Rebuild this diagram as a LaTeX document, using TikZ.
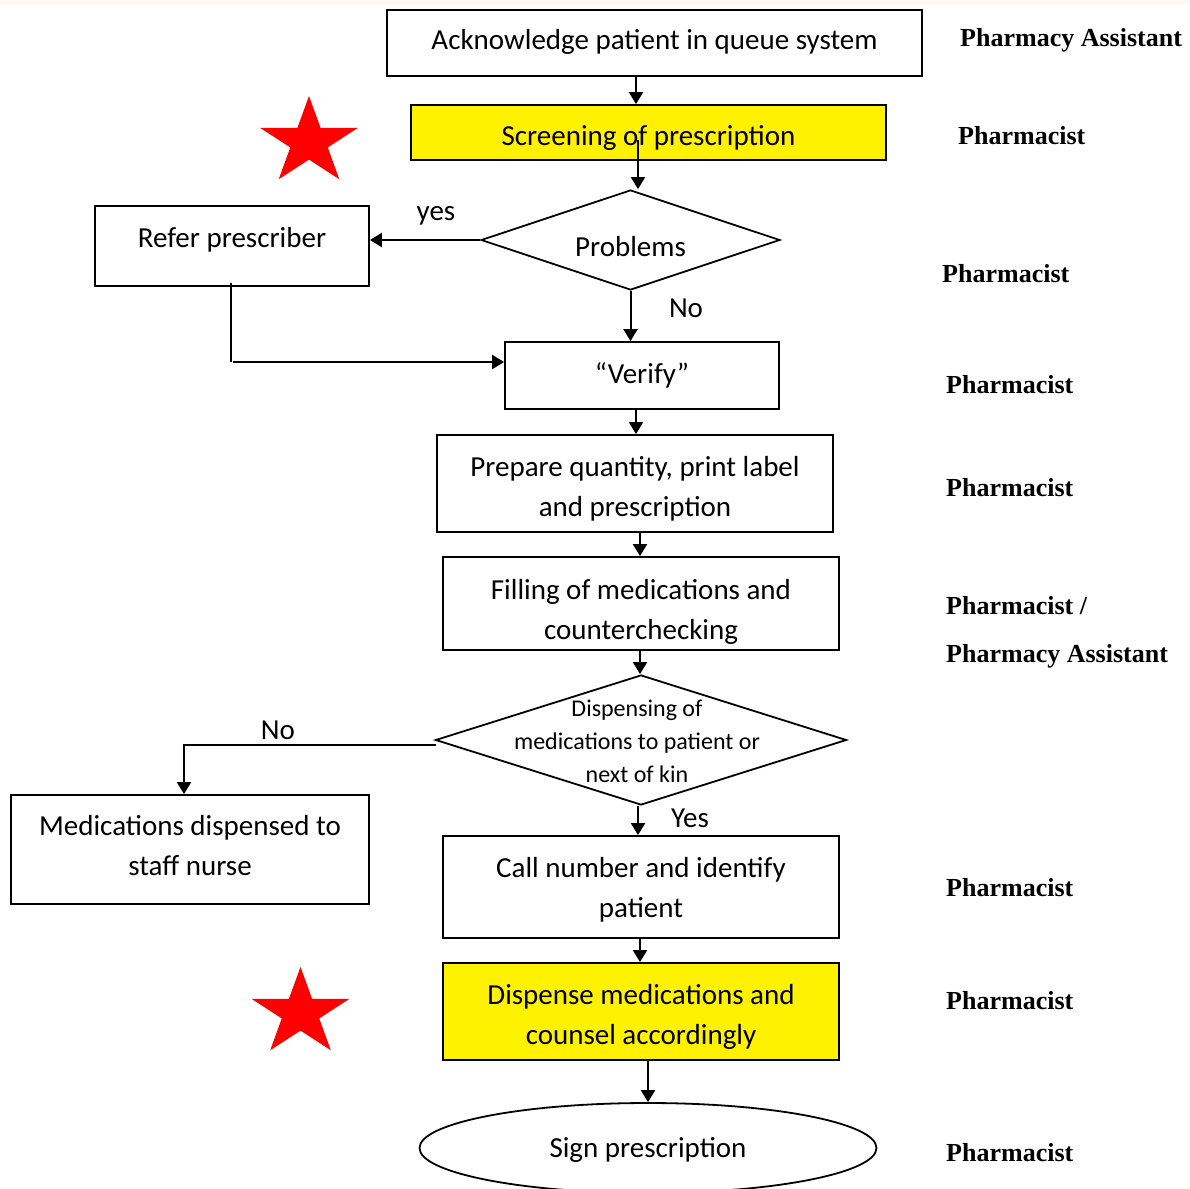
\documentclass[tikz,border=0pt]{standalone}
\usepackage{fontspec}
\setmainfont{Carlito}
\newfontfamily\rolefont{Liberation Serif}
\usetikzlibrary{shapes.geometric,arrows.meta}

\tikzset{
  box/.style={draw, line width=1.8pt, inner sep=0pt, align=center, text depth=0pt,
    font=\fontsize{29}{40}\selectfont},
  yellowbox/.style={box, fill=yellow},
  decision/.style={draw, diamond, aspect=3, line width=1.8pt, inner sep=0pt,
    font=\fontsize{29}{40}\selectfont},
  role/.style={anchor=west, inner sep=0pt, align=left,
    font=\rolefont\bfseries\fontsize{26}{48}\selectfont},
  lbl/.style={font=\fontsize{29}{36}\selectfont},
  arr/.style={line width=2pt, -{Triangle[length=12pt,width=14pt]}},
}

\begin{document}
\begin{tikzpicture}[x=1pt, y=-1pt]
    \useasboundingbox (0,0) rectangle (1190,1188);
    \clip (0,0) rectangle (1190,1188);
    \fill[white] (0,0) rectangle (1190,1188);
    \fill[orange!6] (0,0) rectangle (1190,4);

    % main column
    \node[box, minimum width=535pt, minimum height=66pt, text height=14pt] (ack) at (654.5,43) {Acknowledge patient in queue system};
    \node[yellowbox, minimum width=475pt, minimum height=55pt, text height=25pt] (screen) at (648.5,132.5) {Screening of prescription};
    \node[decision, minimum width=299pt, minimum height=100pt, text height=32pt, text depth=0pt] (prob) at (630.5,240) {Problems};
    \node[box, minimum width=274pt, minimum height=80pt, text height=2pt] (refer) at (232,246) {Refer prescriber};
    \node[box, minimum width=274pt, minimum height=67pt, text height=15pt] (verify) at (642,375.5) {“Verify”};
    \node[box, minimum width=396pt, minimum height=97pt, text height=65pt] (prep) at (635,483.5) {Prepare quantity, print label\\and prescription};
    \node[box, minimum width=396pt, minimum height=93pt, text height=71pt] (fill) at (641,603.5) {Filling of medications and\\counterchecking};
    \node[decision, minimum width=411pt, minimum height=130pt] (kin) at (641,740) {};
    \node[align=center, font=\fontsize{24}{33}\selectfont] (kintext) at (637,741) {Dispensing of\\medications to patient or\\next of kin};
    \node[box, minimum width=358pt, minimum height=109pt, text height=51pt] (nurse) at (190,849.5) {Medications dispensed to\\staff nurse};
    \node[box, minimum width=396pt, minimum height=102pt, text height=60pt] (call) at (641,887) {Call number and identify\\patient};
    \node[yellowbox, minimum width=396pt, minimum height=97pt, text height=65pt] (disp) at (641,1011.5) {Dispense medications and\\counsel accordingly};
    \node[draw, ellipse, line width=1.8pt, inner sep=0pt, minimum width=457pt, minimum height=90pt,
      text height=18pt, text depth=0pt, font=\fontsize{29}{40}\selectfont] (sign) at (648,1148) {Sign prescription};

    % connectors
    \coordinate (scrtail) at (638,140);
    \coordinate (rbend) at (231,362);
    \draw[arr] ([xshift=-18.5pt]ack.south) -- ([xshift=-12.5pt]screen.north);
    \draw[arr] (scrtail) -- ([xshift=7.5pt]prob.north);
    \draw[arr] (prob.west) -- (prob.west -| refer.east);
    \node[lbl] (yes) at (436,216) {yes};
    \draw[arr] (prob.south) -- (prob.south |- verify.north);
    \node[lbl] (no1) at (686,308) {No};
    \draw[line width=1.3pt] ([xshift=-1pt,yshift=4pt]refer.south) -- (rbend);
    \draw[arr] ([xshift=2pt]rbend) -- (rbend -| verify.west);
    \draw[arr] ([xshift=-6pt]verify.south) -- ([xshift=1pt]prep.north);
    \draw[arr] ([xshift=5pt]prep.south) -- ([xshift=-1pt]fill.north);
    \draw[arr] ([xshift=-1pt]fill.south) -- ([xshift=-1pt]kin.north);
    \draw[arr] ([xshift=1pt,yshift=-5pt]kin.west) -| ([xshift=-6pt]nurse.north);
    \node[lbl] (no2) at (278,730) {No};
    \draw[arr] ([xshift=-3pt]kin.south) -- ([xshift=-3pt]call.north);
    \node[lbl] (yes2) at (690,818) {Yes};
    \draw[arr] ([xshift=-1pt]call.south) -- ([xshift=-1pt]disp.north);
    \draw[arr] (disp.south -| sign.north) -- (sign.north);

    % roles
    \node[role] (rassist) at (960,40) {Pharmacy Assistant};
    \node[role] (rboth) at (946,632) {Pharmacist /\\Pharmacy Assistant};
    \foreach \rx/\ry in {958/136, 942/274, 946/385, 946/488, 946/888, 946/1001, 946/1153}
        \node[role] at (\rx,\ry) {Pharmacist};

    % stars
    \foreach \sx/\sy in {309/142, 300.5/1013}
        \fill[red, shift={(\sx,\sy)}, xscale=1.12] (270:46) -- (306:17.6) -- (342:46) -- (18:17.6)
            -- (54:46) -- (90:17.6) -- (126:46) -- (162:17.6) -- (198:46) -- (234:17.6) -- cycle;
\end{tikzpicture}
\end{document}
